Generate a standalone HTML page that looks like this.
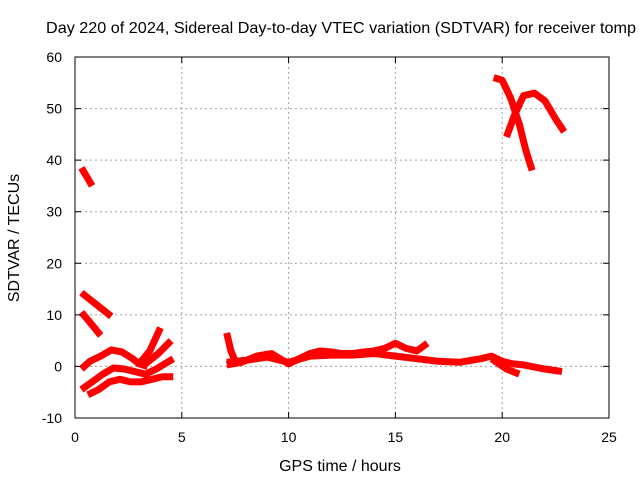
<!DOCTYPE html>
<html><head><meta charset="utf-8"><style>
html,body{margin:0;padding:0;background:#fff;overflow:hidden}
svg{display:block;font-family:"Liberation Sans",sans-serif}
</style></head><body>
<svg id="chart" width="640" height="480">
<text x="46" y="33" font-size="16" textLength="590" lengthAdjust="spacingAndGlyphs">Day 220 of 2024, Sidereal Day-to-day VTEC variation (SDTVAR) for receiver tomp</text>
<g id="grid"></g>
<g id="series"></g>
<rect x="75" y="57" width="534" height="361" fill="none" stroke="#000" stroke-width="1"/>
<g id="ticks"></g>
<text x="340" y="471" font-size="16" text-anchor="middle">GPS time / hours</text>
<text transform="translate(19,238) rotate(-90)" font-size="16" text-anchor="middle">SDTVAR / TECUs</text>
</svg>
<script>
const xTicks=[0,5,10,15,20,25];
const yTicks=[-10,0,10,20,30,40,50,60];
const seg1=[[0.3,38.5],[0.55,36.8],[0.8,35]];
const seg2=[[0.3,14.3],[1,12],[1.7,9.7]];
const seg3=[[0.3,10.5],[0.75,8.3],[1.2,6]];
const segA=[[0.3,-0.5],[0.7,1],[1.2,2],[1.7,3.2],[2.2,2.8],[2.7,1.5],[3.0,0.5],[3.4,0]];
const segB1=[[3.0,0.5],[3.5,3],[4.0,7.5]];
const segB2=[[3.3,0.5],[3.9,2.5],[4.5,5]];
const segC=[[0.3,-4.5],[0.8,-3],[1.3,-1.5],[1.8,-0.3],[2.3,-0.5],[2.8,-1],[3.3,-1.5],[3.8,-0.5],[4.2,0.5],[4.6,1.5]];
const segD=[[0.6,-5.5],[1.1,-4.5],[1.6,-3],[2.1,-2.5],[2.6,-3],[3.1,-3],[3.6,-2.5],[4.1,-2],[4.6,-2]];
const segE=[[7.1,6.5],[7.3,3],[7.5,1]];
const segF=[[7.1,0.3],[7.8,0.8],[8.5,2],[9.2,2.5],[9.6,1.5],[10,0.5],[10.5,1.5],[11,2.5],[11.5,3],[12,2.8],[12.5,2.5],[13,2.5],[13.5,2.8],[14,3],[14.5,3.5],[15,4.5],[15.5,3.5],[16,3],[16.5,4.5]];
const segG=[[7.1,0.8],[8,1.2],[9,1.8],[10,0.8],[11,2],[12,2.2],[13,2.2],[14,2.5],[15,2],[16,1.5],[17,1],[18,0.8],[19,1.5],[19.5,2],[20,1],[20.5,0.5],[21,0.3],[22,-0.5],[22.8,-1]];
const segH=[[19.5,1.5],[20.2,-0.5],[20.8,-1.5]];
const segI=[[19.6,56],[20,55.5],[20.4,52],[20.8,47],[21.1,42],[21.4,38]];
const segJ=[[20.2,44.5],[20.6,49],[21,52.5],[21.5,53],[22,51.5],[22.5,48],[22.9,45.5]];
const allSegs=[seg1,seg2,seg3,segA,segB1,segB2,segC,segD,segE,segF,segG,segH,segI,segJ];
const X=v=>75+v*534/25, Y=v=>418-(v+10)*361/70;
const NS="http://www.w3.org/2000/svg";
const grid=document.getElementById('grid'),ticks=document.getElementById('ticks'),ser=document.getElementById('series');
xTicks.forEach(t=>{
 if(t>0&&t<25){const l=document.createElementNS(NS,'line');l.setAttribute('x1',X(t));l.setAttribute('x2',X(t));l.setAttribute('y1',57);l.setAttribute('y2',418);l.setAttribute('stroke','#a0a0a0');l.setAttribute('stroke-dasharray','2,3');
 
 
 grid.appendChild(l);}
 const tk=document.createElementNS(NS,'path');tk.setAttribute('d',`M${X(t)},418v-6M${X(t)},57v6`);tk.setAttribute('stroke','#000');
 
 
 ticks.appendChild(tk);
 const tx=document.createElementNS(NS,'text');tx.setAttribute('x',X(t));tx.setAttribute('y',442);tx.setAttribute('font-size','14');tx.setAttribute('text-anchor','middle');tx.textContent=t;
 
 
 ticks.appendChild(tx);
});
yTicks.forEach(t=>{
 if(t>-10&&t<60){const l=document.createElementNS(NS,'line');l.setAttribute('x1',75);l.setAttribute('x2',609);l.setAttribute('y1',Y(t));l.setAttribute('y2',Y(t));l.setAttribute('stroke','#a0a0a0');l.setAttribute('stroke-dasharray','2,3');
 
 
 grid.appendChild(l);}
 const tk=document.createElementNS(NS,'path');tk.setAttribute('d',`M75,${Y(t)}h6M609,${Y(t)}h-6`);tk.setAttribute('stroke','#000');
 
 
 ticks.appendChild(tk);
 const tx=document.createElementNS(NS,'text');tx.setAttribute('x',62);tx.setAttribute('y',Y(t)+5);tx.setAttribute('font-size','14');tx.setAttribute('text-anchor','end');tx.textContent=t;
 
 
 ticks.appendChild(tx);
});
allSegs.forEach(s=>{
 const p=document.createElementNS(NS,'polyline');
 p.setAttribute('points',s.map(d=>X(d[0])+','+Y(d[1])).join(' '));
 p.setAttribute('fill','none');p.setAttribute('stroke','#ff0000');p.setAttribute('stroke-width','7');p.setAttribute('stroke-linejoin','round');
 
 
 ser.appendChild(p);
});
</script>
</body></html>
